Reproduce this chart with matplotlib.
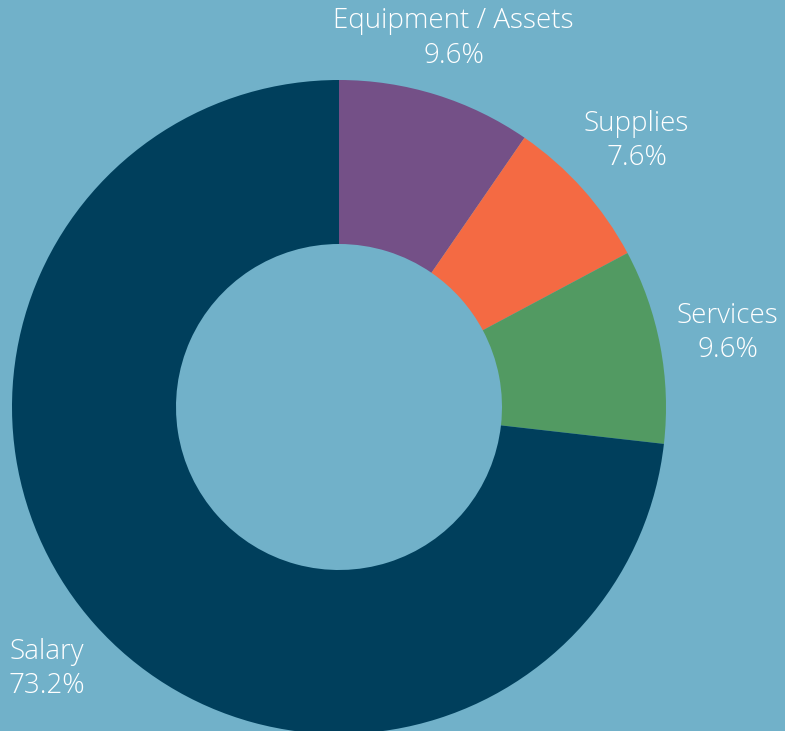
import numpy as np
import matplotlib.pyplot as plt

labels = ['Equipment / Assets', 'Supplies', 'Services', 'Salary']
shares = [9.6, 7.6, 9.6, 73.2]
colors = ['#745087', '#f46a43', '#529a62', '#003f5c']
bg = '#71b1c9'

W, H = 785, 731
fig = plt.figure(figsize=(W / 100, H / 100), dpi=100, facecolor=bg)
ax = fig.add_axes([0, 0, 1, 1])
ax.set_facecolor(bg)

cx, cy, r = 339, H - 407, 327
wedges, _ = ax.pie(shares, colors=colors, startangle=90, counterclock=False,
                   center=(cx, cy), radius=r, frame=True,
                   wedgeprops=dict(width=r - 163, linewidth=0))
ax.set_xlim(0, W)
ax.set_ylim(0, H)
ax.set_aspect('equal')
ax.axis('off')

dists = [1.18, 1.22, 1.21, 1.2]
for i, (w, lab, s) in enumerate(zip(wedges, labels, shares)):
    ang = np.deg2rad((w.theta1 + w.theta2) / 2)
    if lab == 'Salary':
        # pushed into the bottom-left corner, like the original
        ang = np.deg2rad(221.9)
    x = cx + dists[i] * r * np.cos(ang)
    y = cy + dists[i] * r * np.sin(ang)
    ax.text(x, y, f'{lab}\n{s}%', ha='center', va='center', color='white',
            fontsize=20, family='Open Sans', fontweight='light', linespacing=1.3)

fig.savefig('out.png', dpi=100, facecolor=bg)
